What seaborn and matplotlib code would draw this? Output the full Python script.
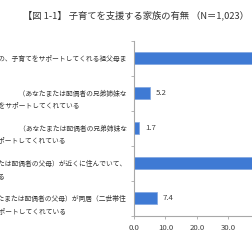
import matplotlib
matplotlib.use("Agg")
import matplotlib.pyplot as plt
import matplotlib.transforms as mtransforms
import seaborn as sns
import pandas as pd

# ---- data ----
categories = [
    "同居・近居している親族の、子育てをサポートしてくれる祖父母ま\nたは親族はいない",
    "近所の兄弟姉妹・親族　　　（あなたまたは配偶者の兄弟姉妹な\nど）が、いつも子育てをサポートしてくれている",
    "一緒に暮らしている兄弟姉妹・親族　　　（あなたまたは配偶者の兄弟姉妹な\nど）が同居して、いつも子育てをサポートしてくれている",
    "祖父母（あなたまたは配偶者の父母）が近くに住んでいて、\nサポートしてくれる",
    "祖父母（あなたまたは配偶者の父母）が同居（二世帯住\n宅）して、サポートしてくれている",
]
values = [57.0, 5.2, 1.7, 38.8, 7.4]
xticks = [0, 10, 20, 30, 40, 50, 60]
xtick_labels = ["0.0", "10.0", "20.0", "30.0", "40.0", "50.0", "60.0"]
title = "【図 1-1】 子育てを支援する家族の有無 （N＝1,023）"

sns.set_theme(style="white")
plt.rcParams['font.family'] = ['Noto Sans CJK JP', 'DejaVu Sans']

W, H = 252, 248
fig = plt.figure(figsize=(W / 100, H / 100), dpi=100)
fig.patch.set_facecolor("white")
ax = fig.add_axes([134 / W, 32.5 / H, 188.4 / W, 175 / H])

df = pd.DataFrame({"cat": categories, "val": values})
sns.barplot(data=df, x="val", y="cat", orient="h", color="#3F7AD4",
            saturation=1, width=0.36, ax=ax, edgecolor="#7FA5E0", linewidth=0.5)

ax.set_xlim(0, 60)
ax.set_ylim(4.5, -0.5)
ax.set_xlabel("")
ax.set_ylabel("")

for s in ["top", "right"]:
    ax.spines[s].set_visible(False)
for s in ["left", "bottom"]:
    ax.spines[s].set_color("#A8A8A8")
    ax.spines[s].set_linewidth(0.8)

ax.set_xticks(xticks)
ax.set_xticklabels(xtick_labels)
ax.tick_params(axis="x", which="major", bottom=True, length=2.5, width=0.6,
               color="#A8A8A8", pad=3.5, labelsize=5.6, labelcolor="#404040")

ax.set_yticks(range(len(categories)))
ax.set_yticks([-0.5, 0.5, 1.5, 2.5, 3.5, 4.5], minor=True)
ax.tick_params(axis="y", which="major", left=True, length=0, pad=5, labelsize=4.85,
               labelcolor="#333333")
ax.tick_params(axis="y", which="minor", left=True, length=2.5, width=0.6, color="#A8A8A8")
offset = mtransforms.ScaledTranslation(0, -0.035, fig.dpi_scale_trans)
for lab in ax.get_yticklabels():
    lab.set_multialignment("left")
    lab.set_linespacing(1.8)
    lab.set_transform(lab.get_transform() + offset)

ax.bar_label(ax.containers[0], labels=[f"{v:.1f}" for v in values], padding=4,
             fontsize=5.6, color="#404040")

fig.text(23 / W, 1 - 15 / H, title, ha="left", va="center", fontsize=6.7, color="#333333")

fig.savefig("out.png", dpi=100)
